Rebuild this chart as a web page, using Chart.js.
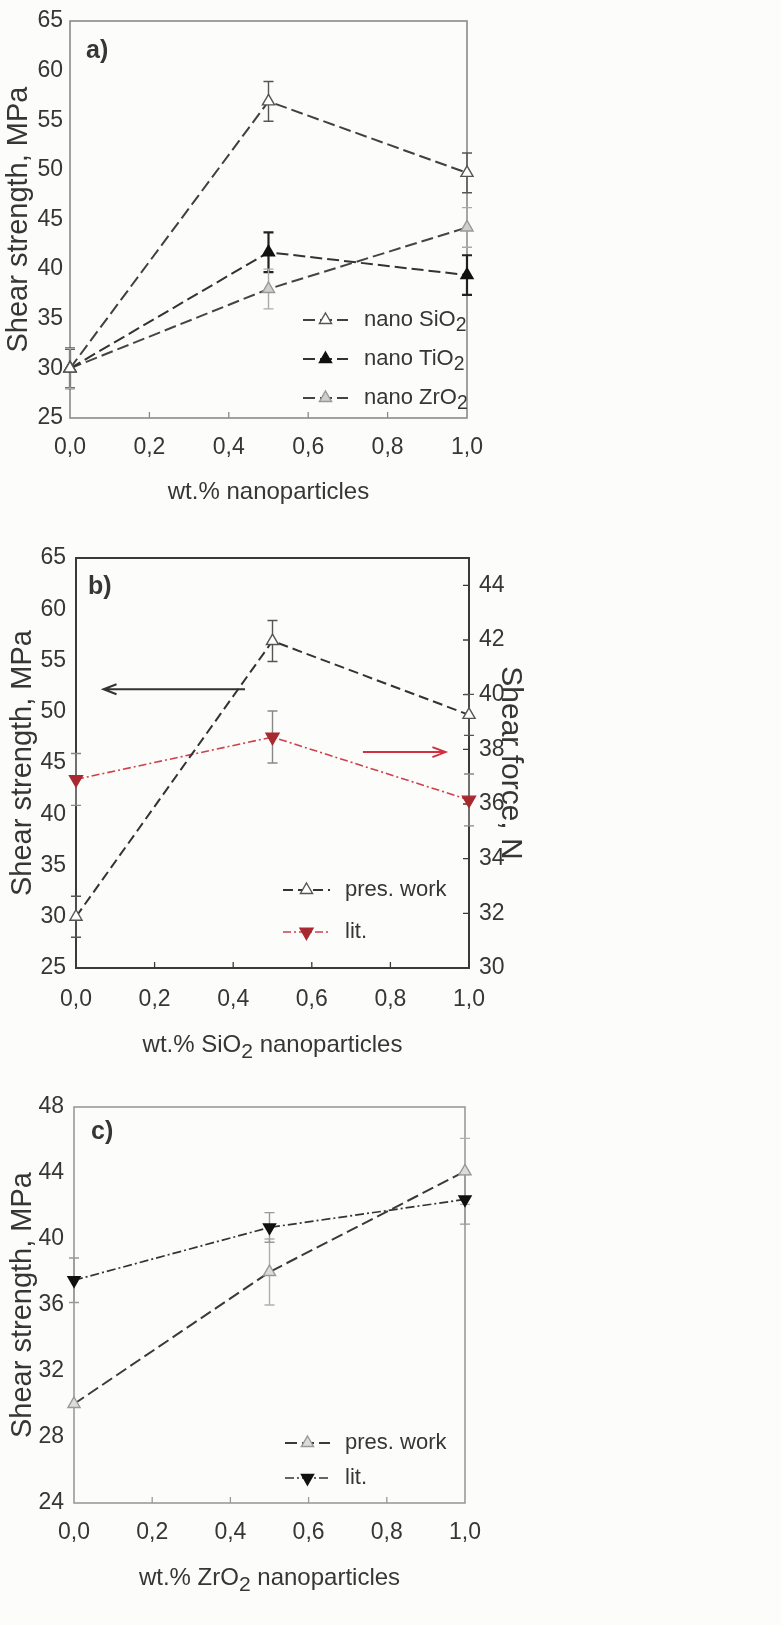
<!DOCTYPE html>
<html>
<head>
<meta charset="utf-8">
<script src="https://cdn.jsdelivr.net/npm/chart.js@4.4.1/dist/chart.umd.min.js"></script>
<style>
  body { margin: 0; background: #fcfcfa; width: 781px; height: 1625px; position: relative; overflow: hidden; }
  canvas { position: absolute; left: 0; }
</style>
</head>
<body>
<canvas id="chart-a" width="781" height="525" style="top:0px"></canvas>
<canvas id="chart-b" width="781" height="535" style="top:530px"></canvas>
<canvas id="chart-c" width="781" height="550" style="top:1075px"></canvas>
<script>
// x positions shared by all panels (wt.% nanoparticles)
const xValues = [0, 0.5, 1.0];
const xTickValues = [0, 0.2, 0.4, 0.6, 0.8, 1.0];

// Panel a) shear strength, MPa
const sio2Strength = [30, 56.9, 49.7];
const sio2Error = [2, 2, 2];
const tio2Strength = [30, 41.7, 39.4];
const tio2Error = [2, 2, 2];
const zro2Strength = [30, 38.0, 44.2];
const zro2Error = [2, 2, 2];
const yTicksA = [25, 30, 35, 40, 45, 50, 55, 60, 65];

// Panel b) SiO2: strength (left, MPa) and literature force (right, N)
const presWorkB = [30, 56.9, 49.7];
const presWorkBError = [2, 2, 2];
const litForceB = [36.9, 38.45, 36.15];
const litForceBError = [0.95, 0.95, 0.95];
const yTicksB = [25, 30, 35, 40, 45, 50, 55, 60, 65];
const y1TicksB = [30, 32, 34, 36, 38, 40, 42, 44];
const leftArrowX = [0.43, 0.07];
const leftArrowY = 52.2;
const rightArrowX = [0.73, 0.94];
const rightArrowY = 37.9;

// Panel c) ZrO2: strength, MPa
const presWorkC = [30, 38.0, 44.1];
const presWorkCError = [0, 2, 2];
const litC = [37.5, 40.7, 42.4];
const litCError = [1.35, 0.9, 1.5];
const yTicksC = [24, 28, 32, 36, 40, 44, 48];

const FONT = "'Liberation Sans', Arial, sans-serif";
const TEXT = "#363636";

function pts(ys) {
  return xValues.map((x, i) => ({ x: x, y: ys[i] }));
}

// text with "_2" style subscripts
function drawRich(ctx, text, x, y, size, align) {
  const parts = text.split(/(_\d)/).filter(Boolean);
  const subSize = size * 0.88;
  let w = 0;
  parts.forEach((p) => {
    const sub = p[0] === "_";
    ctx.font = (sub ? subSize : size) + "px " + FONT;
    w += ctx.measureText(sub ? p.slice(1) : p).width;
  });
  let cx = align === "center" ? x - w / 2 : x;
  ctx.textAlign = "left";
  ctx.textBaseline = "middle";
  parts.forEach((p) => {
    const sub = p[0] === "_";
    const t = sub ? p.slice(1) : p;
    ctx.font = (sub ? subSize : size) + "px " + FONT;
    ctx.fillText(t, cx, y + (sub ? size * 0.28 : 0));
    cx += ctx.measureText(t).width;
  });
}

function tri(ctx, x, y, r, down, fill, stroke, lw) {
  const s = down ? -1 : 1;
  ctx.beginPath();
  ctx.moveTo(x, y - s * r);
  ctx.lineTo(x + r * 0.866, y + s * r * 0.5);
  ctx.lineTo(x - r * 0.866, y + s * r * 0.5);
  ctx.closePath();
  ctx.fillStyle = fill;
  ctx.fill();
  ctx.strokeStyle = stroke;
  ctx.lineWidth = lw;
  ctx.stroke();
}

function arrow(ctx, x1, x2, y, color) {
  const dir = x2 > x1 ? 1 : -1;
  ctx.save();
  ctx.strokeStyle = color;
  ctx.lineWidth = 2;
  ctx.beginPath();
  ctx.moveTo(x1, y);
  ctx.lineTo(x2, y);
  ctx.moveTo(x2 - dir * 13, y - 5);
  ctx.lineTo(x2, y);
  ctx.lineTo(x2 - dir * 13, y + 5);
  ctx.stroke();
  ctx.restore();
}

/* Plugins */
const errorBars = {
  id: "errorBars",
  beforeDatasetsDraw(chart) {
    const ctx = chart.ctx;
    chart.data.datasets.forEach((ds) => {
      if (!ds.errors) return;
      const xs = chart.scales.x;
      const ys = chart.scales[ds.yAxisID || "y"];
      ctx.save();
      ctx.strokeStyle = ds.errorColor;
      ctx.lineWidth = ds.errorWidth || 1.4;
      ds.data.forEach((p, j) => {
        const e = ds.errors[j];
        if (!e) return;
        const px = xs.getPixelForValue(p.x);
        const top = ys.getPixelForValue(p.y + e);
        const bot = ys.getPixelForValue(p.y - e);
        ctx.beginPath();
        ctx.moveTo(px, top);
        ctx.lineTo(px, bot);
        ctx.moveTo(px - 5, top);
        ctx.lineTo(px + 5, top);
        ctx.moveTo(px - 5, bot);
        ctx.lineTo(px + 5, bot);
        ctx.stroke();
      });
      ctx.restore();
    });
  },
};

function makeFrame(color, width, rightTicks) {
  return {
    id: "frame",
    beforeDatasetsDraw(chart) {
      const { ctx, chartArea: a } = chart;
      ctx.save();
      ctx.strokeStyle = color;
      ctx.lineWidth = width;
      ctx.strokeRect(a.left, a.top, a.right - a.left, a.bottom - a.top);
      ctx.lineWidth = 1.3;
      ctx.beginPath();
      xTickValues.slice(1, -1).forEach((v) => {
        const px = chart.scales.x.getPixelForValue(v);
        ctx.moveTo(px, a.bottom);
        ctx.lineTo(px, a.bottom - 6);
      });
      if (rightTicks) {
        rightTicks.slice(1).forEach((v) => {
          const py = chart.scales.y1.getPixelForValue(v);
          ctx.moveTo(a.right, py);
          ctx.lineTo(a.right - 6, py);
        });
      }
      ctx.stroke();
      ctx.restore();
    },
  };
}

function makeDecor(cfg) {
  return {
    id: "decor",
    afterDraw(chart) {
      const { ctx, chartArea: a } = chart;
      ctx.save();
      ctx.fillStyle = TEXT;
      // panel letter
      ctx.font = "bold 25px " + FONT;
      ctx.textAlign = "left";
      ctx.textBaseline = "middle";
      ctx.fillText(cfg.tag, cfg.tagX, cfg.tagY);
      // x title
      drawRich(ctx, cfg.xTitle, (a.left + a.right) / 2, cfg.xTitleY, 24, "center");
      // y title
      ctx.save();
      ctx.translate(cfg.yTitleX, (a.top + a.bottom) / 2);
      ctx.rotate(-Math.PI / 2);
      drawRich(ctx, cfg.yTitle, 0, 0, 29, "center");
      ctx.restore();
      if (cfg.y1Title) {
        ctx.save();
        ctx.translate(cfg.y1TitleX, (a.top + a.bottom) / 2);
        ctx.rotate(Math.PI / 2);
        drawRich(ctx, cfg.y1Title, 0, 0, 30, "center");
        ctx.restore();
      }
      // legend
      const L = cfg.legend;
      chart.data.datasets.forEach((ds, i) => {
        const y = L.y + i * L.dy;
        ctx.save();
        ctx.strokeStyle = ds.borderColor;
        ctx.lineWidth = ds.borderWidth;
        ctx.setLineDash(ds.borderDash || []);
        ctx.beginPath();
        ctx.moveTo(L.x0, y);
        ctx.lineTo(L.x1, y);
        ctx.stroke();
        ctx.setLineDash([]);
        tri(ctx, (L.x0 + L.x1) / 2, y, ds.pointRadius, ds.pointRotation === 180,
          ds.pointBackgroundColor, ds.pointBorderColor, ds.pointBorderWidth);
        ctx.fillStyle = TEXT;
        drawRich(ctx, ds.label, L.textX, y, 22, "left");
        ctx.restore();
      });
      ctx.restore();
      if (cfg.arrows) cfg.arrows(chart);
    },
  };
}

/* Scales */
function xScale(height, padding) {
  return {
    type: "linear",
    min: 0,
    max: 1,
    afterBuildTicks: (s) => { s.ticks = xTickValues.map((v) => ({ value: v })); },
    afterFit: (s) => { s.height = height; },
    grid: { display: false, drawTicks: false },
    border: { display: false },
    ticks: {
      padding: padding,
      color: TEXT,
      autoSkip: false,
      maxRotation: 0,
      font: { family: FONT, size: 23 },
      callback: (v) => v.toFixed(1).replace(".", ","),
    },
  };
}

function yScale(tickValues, width, padding, position) {
  return {
    type: "linear",
    position: position || "left",
    min: tickValues[0],
    max: position === "right" ? 45 : tickValues[tickValues.length - 1],
    afterBuildTicks: (s) => { s.ticks = tickValues.map((v) => ({ value: v })); },
    afterFit: (s) => { s.width = width; },
    grid: { display: false, drawTicks: false },
    border: { display: false },
    ticks: { padding: padding, color: TEXT, font: { family: FONT, size: 23 } },
  };
}

function lineSet(label, ys, errs, style) {
  return Object.assign({
    label: label,
    data: pts(ys),
    errors: errs,
    showLine: true,
    fill: false,
    tension: 0,
    borderWidth: 2,
    pointStyle: "triangle",
    pointRadius: 7,
    pointBorderWidth: 1.4,
    clip: false,
  }, style);
}

const common = {
  responsive: false,
  animation: false,
  events: [],
  plugins: { legend: { display: false }, tooltip: { enabled: false } },
};

/* Panel a */
new Chart(document.getElementById("chart-a"), {
  type: "line",
  data: {
    datasets: [
      lineSet("nano SiO_2", sio2Strength, sio2Error, {
        borderColor: "#404040", borderDash: [12, 5],
        pointBackgroundColor: "#ffffff", pointBorderColor: "#555",
        errorColor: "#555",
      }),
      lineSet("nano TiO_2", tio2Strength, tio2Error, {
        borderColor: "#333", borderDash: [12, 5],
        pointBackgroundColor: "#111", pointBorderColor: "#111",
        errorColor: "#222", errorWidth: 2.2,
      }),
      lineSet("nano ZrO_2", zro2Strength, zro2Error, {
        borderColor: "#444", borderDash: [12, 5],
        pointBackgroundColor: "#cfcfcf", pointBorderColor: "#999",
        errorColor: "#aaa",
      }),
    ],
  },
  options: Object.assign({}, common, {
    layout: { padding: { top: 21, right: 314, left: 0, bottom: 0 } },
    scales: { x: xScale(107, 16), y: yScale(yTicksA, 70, 7) },
  }),
  plugins: [makeFrame("#8a8a8a", 1.6), errorBars, makeDecor({
    tag: "a)", tagX: 86, tagY: 51,
    xTitle: "wt.% nanoparticles", xTitleY: 492,
    yTitle: "Shear strength, MPa", yTitleX: 19,
    legend: { x0: 303, x1: 348, textX: 364, y: 320, dy: 39 },
  })],
});

/* Panel b */
new Chart(document.getElementById("chart-b"), {
  type: "line",
  data: {
    datasets: [
      lineSet("pres. work", presWorkB, presWorkBError, {
        borderColor: "#333", borderDash: [10, 5],
        pointBackgroundColor: "#ffffff", pointBorderColor: "#555",
        errorColor: "#555",
      }),
      lineSet("lit.", litForceB, litForceBError, {
        yAxisID: "y1",
        borderColor: "#d0404c", borderWidth: 1.6, borderDash: [8, 3, 2, 3],
        pointRadius: 7.5, pointRotation: 180,
        pointBackgroundColor: "#a82a30", pointBorderColor: "#a82a30",
        errorColor: "#888",
      }),
    ],
  },
  options: Object.assign({}, common, {
    layout: { padding: { top: 28, right: 0, left: 0, bottom: 0 } },
    scales: {
      x: xScale(97, 18),
      y: yScale(yTicksB, 76, 10),
      y1: yScale(y1TicksB, 312, 10, "right"),
    },
  }),
  plugins: [makeFrame("#3a3a3a", 2, y1TicksB), errorBars, makeDecor({
    tag: "b)", tagX: 88, tagY: 57,
    xTitle: "wt.% SiO_2 nanoparticles", xTitleY: 515,
    yTitle: "Shear strength, MPa", yTitleX: 23,
    y1Title: "Shear force, N", y1TitleX: 510,
    legend: { x0: 283, x1: 330, textX: 345, y: 360, dy: 42 },
    arrows: (chart) => {
      const xs = chart.scales.x;
      arrow(chart.ctx, xs.getPixelForValue(leftArrowX[0]), xs.getPixelForValue(leftArrowX[1]),
        chart.scales.y.getPixelForValue(leftArrowY), "#333");
      arrow(chart.ctx, xs.getPixelForValue(rightArrowX[0]), xs.getPixelForValue(rightArrowX[1]),
        chart.scales.y1.getPixelForValue(rightArrowY), "#d03040");
    },
  })],
});

/* Panel c */
new Chart(document.getElementById("chart-c"), {
  type: "line",
  data: {
    datasets: [
      lineSet("pres. work", presWorkC, presWorkCError, {
        borderColor: "#3a3a3a", borderDash: [12, 5],
        pointBackgroundColor: "#dcdcdc", pointBorderColor: "#999",
        errorColor: "#b0b0b0",
      }),
      lineSet("lit.", litC, litCError, {
        borderColor: "#333", borderWidth: 1.7, borderDash: [9, 3, 2, 3],
        pointRotation: 180,
        pointBackgroundColor: "#111", pointBorderColor: "#111",
        errorColor: "#999",
      }),
    ],
  },
  options: Object.assign({}, common, {
    layout: { padding: { top: 32, right: 316, left: 0, bottom: 0 } },
    scales: { x: xScale(122, 16), y: yScale(yTicksC, 74, 10) },
  }),
  plugins: [makeFrame("#9a9a9a", 1.6), errorBars, makeDecor({
    tag: "c)", tagX: 91, tagY: 57,
    xTitle: "wt.% ZrO_2 nanoparticles", xTitleY: 503,
    yTitle: "Shear strength, MPa", yTitleX: 23,
    legend: { x0: 285, x1: 330, textX: 345, y: 368, dy: 35 },
  })],
});
</script>
</body>
</html>
